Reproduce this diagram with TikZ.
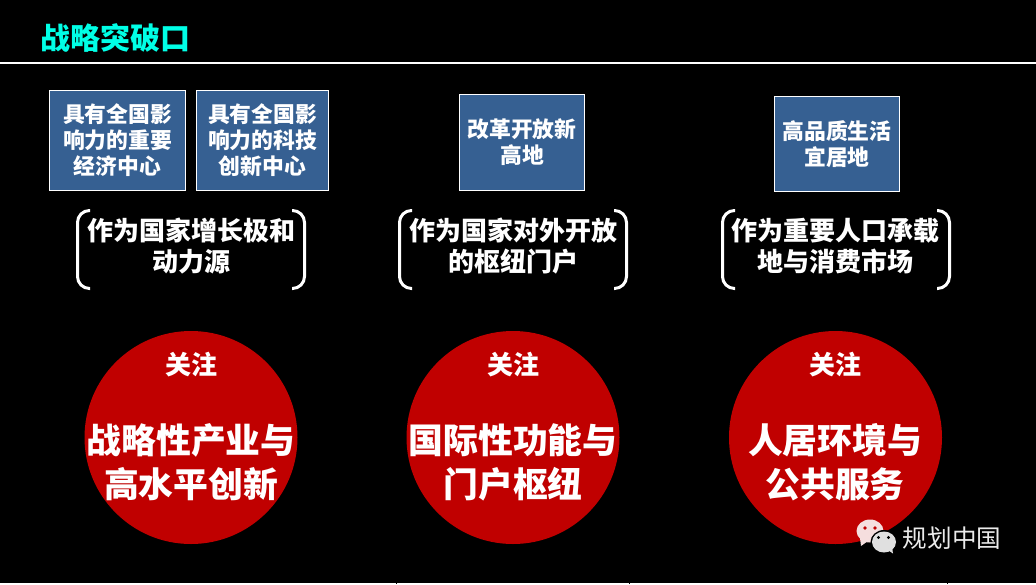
\documentclass[tikz,border=0pt]{standalone}
\usepackage{fontspec}
\setmainfont{Noto Sans CJK SC}
\definecolor{boxblue}{RGB}{54,96,146}
\definecolor{discred}{RGB}{192,0,0}
\definecolor{titlecyan}{RGB}{0,255,230}
\definecolor{bubblepink}{RGB}{245,222,222}
\definecolor{bubblegrey}{RGB}{224,224,224}
\tikzset{
  x=1pt,y=-1pt,
  infobox/.style={draw=white,line width=1pt,fill=boxblue,text=white,align=center,inner sep=0pt,font=\fontsize{21.8}{26}\selectfont\bfseries},
  roletext/.style={text=white,align=center,inner sep=0pt,font=\fontsize{26}{31}\selectfont\bfseries},
  bracketline/.style={draw=white,line width=3pt,rounded corners=12pt},
  disc/.style={circle,fill=discred,inner sep=0pt,minimum size=213pt},
  focus/.style={text=white,inner sep=0pt,font=\fontsize{26}{30}\selectfont\bfseries},
  bigtext/.style={text=white,align=center,inner sep=0pt,font=\fontsize{34.8}{44}\selectfont\bfseries},
}
\begin{document}
\begin{tikzpicture}
\useasboundingbox (0,0) rectangle (1036,584);
\fill[black] (0,0) rectangle (1036,584);
% title and rules
\node[text=titlecyan,inner sep=0pt,font=\fontsize{30}{34}\selectfont\bfseries] (title) at (115.5,38) {战略突破口};
\coordinate (ruleL) at (0,62.8);
\coordinate (ruleR) at (1036,62.8);
\draw[white,line width=1.8pt] (ruleL) -- (ruleR);
\coordinate (baseL) at (0,583.5);
\coordinate (baseR) at (1036,583.5);
\draw[white,line width=1.2pt] (baseL) -- (baseR);
\foreach \tx in {396,629,947}{\fill[black] (\tx,582.5) rectangle (\tx+1,584);}
% boxes
\node[infobox,minimum width=136pt,minimum height=100pt] (b1) at (117.5,140.5) {具有全国影\\响力的重要\\经济中心};
\node[infobox,minimum width=132pt,minimum height=100pt] (b2) at (262.5,140.5) {具有全国影\\响力的科技\\创新中心};
\node[infobox,minimum width=125pt,minimum height=96pt] (b3) at (522,142.2) {改革开放新\\高地};
\node[infobox,minimum width=125pt,minimum height=95pt] (b4) at (837,144) {高品质生活\\宜居地};
% brackets
\foreach \ox in {0,322,645}{
  \draw[bracketline] (\ox+90,210.5) -- (\ox+77.5,210.5) -- (\ox+77.5,288.5) -- (\ox+90,288.5);
  \draw[bracketline] (\ox+292,210.5) -- (\ox+304.5,210.5) -- (\ox+304.5,288.5) -- (\ox+292,288.5);
}
\node[roletext] (r1) at (191,246) {作为国家增长极和\\动力源};
\node[roletext] (r2) at (513,246) {作为国家对外开放\\的枢纽门户};
\node[roletext] (r3) at (835,246) {作为重要人口承载\\地与消费市场};
% discs
\node[disc] (c1) at (191,437.5) {};
\node[disc] (c2) at (513,437.5) {};
\node[disc] (c3) at (835.5,437.5) {};
\node[focus] (f1) at (191,365) {关注};
\node[focus] (f2) at (513,365) {关注};
\node[focus] (f3) at (835,365) {关注};
\node[bigtext] (t1) at (191,462) {战略性产业与\\高水平创新};
\node[bigtext] (t2) at (513,462) {国际性功能与\\门户枢纽};
\node[bigtext] (t3) at (835,462) {人居环境与\\公共服务};
% watermark
\fill[bubblepink] (870,531) ellipse (13.5pt and 11.5pt);
\fill[bubblepink] (860,538) -- (861,546) -- (868,541) -- cycle;
\fill[discred] (865,528) circle (1.8pt) (875,528) circle (1.8pt);
\fill[black] (884,542) ellipse (13.5pt and 12pt);
\fill[bubblegrey] (884,542) ellipse (12pt and 10.5pt);
\fill[bubblegrey] (888,550) -- (893,553.5) -- (892,547) -- cycle;
\fill[black] (878.5,537.5) circle (1.7pt) (888.5,537.5) circle (1.7pt);
\node[text=white!92!black,inner sep=0pt,font=\fontsize{24.6}{28}\selectfont] (wm) at (952,538) {规划中国};
\end{tikzpicture}
\end{document}
